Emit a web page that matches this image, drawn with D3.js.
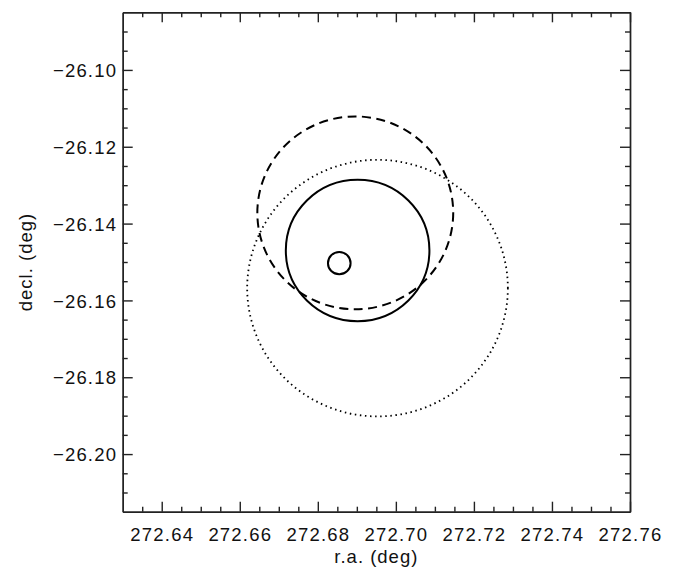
<!DOCTYPE html>
<html>
<head>
<meta charset="utf-8">
<script src="https://cdn.jsdelivr.net/npm/d3@7"></script>
<style>
  body { margin: 0; background: #fff; }
  svg text { font-family: "Liberation Sans", Arial, sans-serif; fill: #111; }
</style>
</head>
<body>
<div id="graphic"></div>
<script>
// circle data (deg)
const circleNames = ["small", "solid", "dashed", "dotted"];
const centerRA  = [272.6855, 272.6902, 272.6896, 272.6953];
const centerDec = [-26.1503, -26.1470, -26.1372, -26.1568];
const radius    = [0.0029, 0.0184, 0.0251, 0.0334];

// axis ticks
const xMajor = [272.64, 272.66, 272.68, 272.70, 272.72, 272.74, 272.76];
const xMinor = [272.635, 272.645, 272.65, 272.655, 272.665, 272.67, 272.675, 272.685, 272.69,
                272.695, 272.705, 272.71, 272.715, 272.725, 272.73, 272.735, 272.745, 272.75, 272.755];
const yMajor = [-26.10, -26.12, -26.14, -26.16, -26.18, -26.20];
const yMinor = [-26.09, -26.095, -26.105, -26.11, -26.115, -26.125, -26.13, -26.135, -26.145, -26.15,
                -26.155, -26.165, -26.17, -26.175, -26.185, -26.19, -26.195, -26.205, -26.21];
const xDomain = [272.63, 272.76];
const yDomain = [-26.215, -26.085];

const width = 675, height = 570;
const margin = {left: 122.7, top: 12.3, right: 45, bottom: 58.3};
const plotWidth = width - margin.left - margin.right;
const plotHeight = height - margin.top - margin.bottom;

// line styles per circle
const styles = {
  small:  {dash: null,    w: 2.0},
  solid:  {dash: null,    w: 2.0},
  dashed: {dash: "9,5.5", w: 2.0},
  dotted: {dash: "1.5,3.6", w: 1.8}
};

const svg = d3.select("#graphic")
  .append("svg")
  .attr("width", width)
  .attr("height", height);

const plot = svg.append("g")
  .attr("transform", "translate(" + margin.left + "," + margin.top + ")");

const x = d3.scaleLinear().domain(xDomain).range([0, plotWidth]);
const y = d3.scaleLinear().domain(yDomain).range([plotHeight, 0]);

const axisColor = "#222";
const fmtY = d => "\u2212" + Math.abs(d).toFixed(2);

function styleAxis(g) {
  g.selectAll("path, line").attr("stroke", axisColor).attr("stroke-width", 1.4);
}

// bottom
plot.append("g")
  .attr("transform", "translate(0," + plotHeight + ")")
  .call(d3.axisBottom(x).tickValues(xMajor).tickSizeInner(-10).tickSizeOuter(0).tickFormat(d3.format(".2f")))
  .call(styleAxis)
  .call(g => g.selectAll("text")
    .attr("y", 29).attr("dy", null)
    .attr("font-size", 18.5).attr("letter-spacing", 1.2)
    .attr("font-family", null));
plot.append("g")
  .attr("transform", "translate(0," + plotHeight + ")")
  .call(d3.axisBottom(x).tickValues(xMinor).tickSizeInner(-5).tickSizeOuter(0).tickFormat(""))
  .call(styleAxis);

// top
plot.append("g")
  .call(d3.axisTop(x).tickValues(xMajor).tickSizeInner(-10).tickSizeOuter(0).tickFormat(""))
  .call(styleAxis);
plot.append("g")
  .call(d3.axisTop(x).tickValues(xMinor).tickSizeInner(-5).tickSizeOuter(0).tickFormat(""))
  .call(styleAxis);

// left
plot.append("g")
  .call(d3.axisLeft(y).tickValues(yMajor).tickSizeInner(-10).tickSizeOuter(0).tickFormat(fmtY))
  .call(styleAxis)
  .call(g => g.selectAll("text")
    .attr("x", -5.5).attr("dy", "0.36em")
    .attr("font-size", 18.5).attr("letter-spacing", 1.2)
    .attr("font-family", null));
plot.append("g")
  .call(d3.axisLeft(y).tickValues(yMinor).tickSizeInner(-5).tickSizeOuter(0).tickFormat(""))
  .call(styleAxis);

// right
plot.append("g")
  .attr("transform", "translate(" + plotWidth + ",0)")
  .call(d3.axisRight(y).tickValues(yMajor).tickSizeInner(-10).tickSizeOuter(0).tickFormat(""))
  .call(styleAxis);
plot.append("g")
  .attr("transform", "translate(" + plotWidth + ",0)")
  .call(d3.axisRight(y).tickValues(yMinor).tickSizeInner(-5).tickSizeOuter(0).tickFormat(""))
  .call(styleAxis);

// axis titles
svg.append("text")
  .attr("x", margin.left + plotWidth / 2)
  .attr("y", 563)
  .attr("text-anchor", "middle")
  .attr("font-size", 18.5)
  .attr("letter-spacing", 1)
  .text("r.a. (deg)");

svg.append("text")
  .attr("transform", "translate(32," + (margin.top + plotHeight / 2) + ") rotate(-90)")
  .attr("text-anchor", "middle")
  .attr("font-size", 18.5)
  .attr("letter-spacing", 1)
  .text("decl. (deg)");

// circles
const circles = circleNames.map((name, i) => ({
  name: name, ra: centerRA[i], dec: centerDec[i], r: radius[i]
}));

plot.append("g")
  .selectAll("ellipse")
  .data(circles)
  .join("ellipse")
  .attr("cx", d => x(d.ra))
  .attr("cy", d => y(d.dec))
  .attr("rx", d => x(d.ra + d.r) - x(d.ra))
  .attr("ry", d => y(d.dec) - y(d.dec + d.r))
  .attr("fill", "none")
  .attr("stroke", "#000")
  .attr("stroke-width", d => styles[d.name].w)
  .attr("stroke-dasharray", d => styles[d.name].dash)
  .attr("stroke-linecap", "butt");
</script>
</body>
</html>
